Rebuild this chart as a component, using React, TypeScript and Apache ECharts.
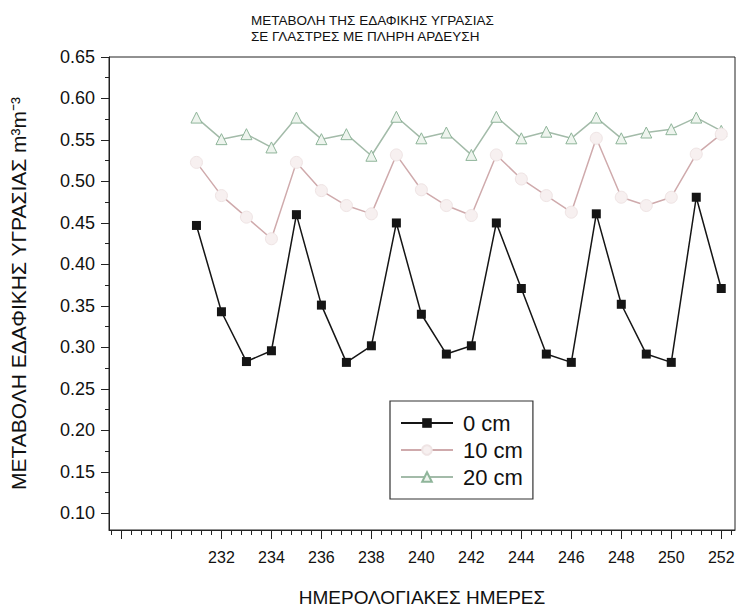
import React, { useEffect, useRef } from "react";
import * as echarts from "echarts";

const days = [231, 232, 233, 234, 235, 236, 237, 238, 239, 240, 241, 242, 243, 244, 245, 246, 247, 248, 249, 250, 251, 252];
const depth0 = [0.447, 0.343, 0.283, 0.296, 0.46, 0.351, 0.282, 0.302, 0.45, 0.34, 0.292, 0.302, 0.45, 0.371, 0.292, 0.282, 0.461, 0.352, 0.292, 0.282, 0.481, 0.371];
const depth10 = [0.523, 0.483, 0.457, 0.431, 0.523, 0.489, 0.471, 0.461, 0.532, 0.49, 0.471, 0.459, 0.532, 0.503, 0.483, 0.463, 0.552, 0.481, 0.471, 0.481, 0.533, 0.557];
const depth20 = [0.577, 0.551, 0.557, 0.541, 0.577, 0.551, 0.557, 0.531, 0.578, 0.552, 0.559, 0.532, 0.578, 0.552, 0.56, 0.552, 0.577, 0.552, 0.559, 0.563, 0.577, 0.561];
const seriesNames = ["0 cm", "10 cm", "20 cm"];
const xLabels = [232, 234, 236, 238, 240, 242, 244, 246, 248, 250, 252];
const xMajorTicks = [228, 230, 232, 234, 236, 238, 240, 242, 244, 246, 248, 250, 252];
const yLabels = [0.1, 0.15, 0.2, 0.25, 0.3, 0.35, 0.4, 0.45, 0.5, 0.55, 0.6, 0.65];
const yMinorTicks = [0.125, 0.175, 0.225, 0.275, 0.325, 0.375, 0.425, 0.475, 0.525, 0.575, 0.625];
const titleText = "ΜΕΤΑΒΟΛΗ ΤΗΣ ΕΔΑΦΙΚΗΣ ΥΓΡΑΣΙΑΣ\nΣΕ ΓΛΑΣΤΡΕΣ ΜΕ ΠΛΗΡΗ ΑΡΔΕΥΣΗ";
const yName = "ΜΕΤΑΒΟΛΗ ΕΔΑΦΙΚΗΣ ΥΓΡΑΣΙΑΣ m³m⁻³";
const xName = "ΗΜΕΡΟΛΟΓΙΑΚΕΣ ΗΜΕΡΕΣ";

const FONT = "'Liberation Sans', Arial, sans-serif";

export default function App() {
  const ref = useRef<HTMLDivElement>(null);
  useEffect(() => {
    document.body.style.margin = "0";
    if (!ref.current) return;
    const chart = echarts.init(ref.current, null, { renderer: "svg" });
    const xMinor: number[] = [];
    for (let i = 0; i <= 62; i++) xMinor.push(Math.round((227.6 + i * 0.4) * 10) / 10);
    const pair = (vals: number[]) => days.map((d, i) => [d, vals[i]]);
    const XMIN = 227.5, XMAX = 252.55, YMIN = 0.08, YMAX = 0.65;
    chart.setOption({
      animation: false,
      backgroundColor: "#fff",
      textStyle: { fontFamily: FONT },
      title: {
        text: titleText,
        left: 246,
        top: 7,
        textStyle: { fontSize: 13.5, fontWeight: "normal", color: "#111", lineHeight: 16, fontFamily: FONT },
      },
      grid: { left: 107, right: 7, top: 57, bottom: 77, show: true, borderColor: "#222", borderWidth: 1, backgroundColor: "transparent" },
      legend: {
        data: seriesNames,
        orient: "vertical",
        left: 390,
        top: 401,
        borderColor: "#333",
        borderWidth: 1.2,
        padding: [11, 10, 11, 10],
        itemWidth: 52,
        itemHeight: 12,
        itemGap: 5,
        textStyle: { fontSize: 22, color: "#111", fontFamily: FONT, padding: [0, 0, 0, 5] },
      },
      xAxis: [
        {
          type: "value",
          min: XMIN,
          max: XMAX,
          position: "bottom",
          name: xName,
          nameLocation: "middle",
          nameGap: 58,
          nameTextStyle: { fontSize: 19, color: "#111", fontFamily: FONT },
          axisLine: { show: true, lineStyle: { color: "#222", width: 1 } },
          axisTick: { show: true, customValues: xMajorTicks, length: 9, lineStyle: { color: "#222", width: 1 } },
          axisLabel: { customValues: xLabels, fontSize: 16, color: "#111", margin: 19, fontFamily: FONT },
          splitLine: { show: false },
        },
        {
          type: "value",
          min: XMIN,
          max: XMAX,
          position: "bottom",
          axisLine: { show: false },
          axisTick: { show: true, customValues: xMinor, length: 5, lineStyle: { color: "#222", width: 1 } },
          axisLabel: { show: false },
          splitLine: { show: false },
        },
      ],
      yAxis: [
        {
          type: "value",
          min: YMIN,
          max: YMAX,
          position: "left",
          name: yName,
          nameLocation: "middle",
          nameGap: 80,
          nameTextStyle: { fontSize: 21, color: "#111", fontFamily: FONT },
          axisLine: { show: true, lineStyle: { color: "#222", width: 1 } },
          axisTick: { show: true, customValues: yLabels, length: 8, lineStyle: { color: "#222", width: 1 } },
          axisLabel: {
            customValues: yLabels,
            fontSize: 18,
            color: "#111",
            margin: 14,
            fontFamily: FONT,
            formatter: (v: number) => v.toFixed(2),
          },
          splitLine: { show: false },
        },
        {
          type: "value",
          min: YMIN,
          max: YMAX,
          position: "left",
          axisLine: { show: false },
          axisTick: { show: true, customValues: yMinorTicks, length: 4, lineStyle: { color: "#222", width: 1 } },
          axisLabel: { show: false },
          splitLine: { show: false },
        },
      ],
      series: [
        {
          name: seriesNames[0],
          type: "line",
          data: pair(depth0),
          symbol: "rect",
          symbolSize: 9,
          itemStyle: { color: "#151515" },
          lineStyle: { color: "#151515", width: 1.5 },
          z: 4,
        },
        {
          name: seriesNames[1],
          type: "line",
          data: pair(depth10),
          symbol: "circle",
          symbolSize: 12,
          itemStyle: { color: "#f7f0f0", borderColor: "#efe4e4", borderWidth: 1 },
          lineStyle: { color: "#cfaaac", width: 1.5 },
          z: 3,
        },
        {
          name: seriesNames[2],
          type: "line",
          data: pair(depth20),
          symbol: "triangle",
          symbolSize: 11,
          itemStyle: { color: "#eef4ee", borderColor: "#8fb59a", borderWidth: 1 },
          lineStyle: { color: "#a3bba9", width: 1.5 },
          z: 2,
        },
      ],
    });
    return () => chart.dispose();
  }, []);
  return <div ref={ref} style={{ width: 742, height: 612 }} />;
}
